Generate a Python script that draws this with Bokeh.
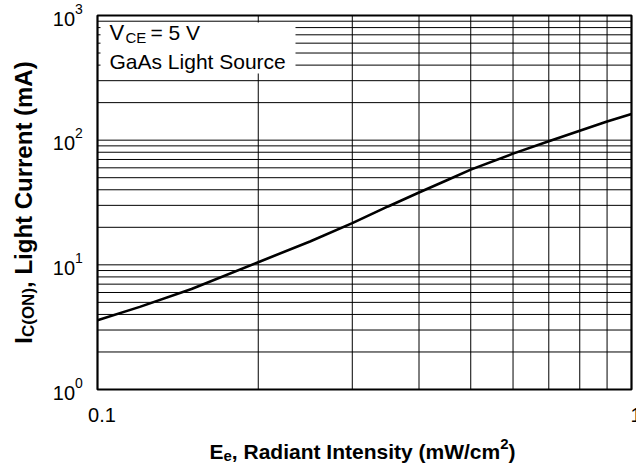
import math
from bokeh.plotting import figure
from bokeh.models import Label, BoxAnnotation, Range1d
from bokeh.embed import file_html
from bokeh.resources import INLINE

# ---------------- data ----------------
intensity = [0.1, 0.12, 0.15, 0.2, 0.25, 0.3, 0.35, 0.4, 0.45, 0.5, 0.6, 0.7, 0.8, 0.9, 1.0]
current = [3.6, 4.6, 6.4, 10.5, 15.4, 21.6, 29.4, 38, 47.5, 58, 78, 98, 119, 141, 162]

x_grid = [0.1, 0.2, 0.3, 0.4, 0.5, 0.6, 0.7, 0.8, 0.9, 1.0]
y_grid = [1, 2, 3, 4, 5, 6, 7, 8, 9,
          10, 20, 30, 40, 50, 60, 70, 80, 90,
          100, 200, 300, 400, 500, 600, 700, 800, 900, 1000]
y_tick_exps = [0, 1, 2, 3]
x_tick_vals = [0.1, 1.0]
x_tick_labels = ["0.1", "1"]

XMIN, XMAX = 0.1, 1.0
YMIN, YMAX = 1.0, 1000.0

# ---------------- layout (pixels) ----------------
W, H = 636, 467
FL, FT = 97, 15          # chart box left / top
FW, FH = 534, 374        # chart box width / height
FONT = "Liberation Sans"
SHIFT = 7                # baseline correction of the text renderer

XDEC = math.log10(XMAX / XMIN)
YDEC = math.log10(YMAX / YMIN)


def xdata(px):  # px measured from chart box left
    return XMIN * 10 ** (px / FW * XDEC)


def ydata(py):  # py measured from chart box top
    return YMAX * 10 ** (-py / FH * YDEC)


BOLD = {' ': 278, ',': 278, '(': 333, ')': 333, '/': 278, 'A': 722, 'C': 722,
        'E': 667, 'I': 278, 'L': 611, 'N': 722, 'O': 778, 'R': 722, 'W': 944,
        'a': 556, 'c': 556, 'd': 611, 'e': 556, 'g': 611, 'h': 611, 'i': 278,
        'm': 889, 'n': 611, 'r': 389, 's': 556, 't': 333, 'u': 611, 'y': 556}


def tw(s, size):
    return sum(BOLD.get(ch, 556) for ch in s) / 1000.0 * size


p = figure(width=W, height=H, x_axis_type="log", y_axis_type="log",
           x_range=Range1d(xdata(-FL), xdata(W - FL)),
           y_range=Range1d(ydata(H - FT), ydata(-FT)),
           output_backend="svg", toolbar_location=None,
           min_border=0)
p.xaxis.visible = False
p.yaxis.visible = False
p.xgrid.visible = False
p.ygrid.visible = False
p.outline_line_color = None
p.background_fill_color = "white"
p.border_fill_color = "white"

# grid lines
p.segment(x0=x_grid, y0=[YMIN] * len(x_grid), x1=x_grid, y1=[YMAX] * len(x_grid),
          line_color="black", line_width=1, level="underlay")
p.segment(x0=[XMIN] * len(y_grid), y0=y_grid, x1=[XMAX] * len(y_grid), y1=y_grid,
          line_color="black", line_width=1, level="underlay")

# curve
p.line(intensity, current, line_color="black", line_width=2.6)

# white box behind the annotation
p.add_layout(BoxAnnotation(left=xdata(3), right=xdata(198), top=ydata(7),
                           bottom=ydata(58), fill_color="white", fill_alpha=1,
                           line_color=None, level="annotation"))

# chart border
p.quad(left=[XMIN], right=[XMAX], bottom=[YMIN], top=[YMAX],
       fill_color=None, line_color="black", line_width=2.2)


def lab(x, y, text, size, xo, yo, bold=False, align="left", angle=0.0):
    if angle:
        xo -= SHIFT
    else:
        yo += SHIFT
    p.add_layout(Label(x=x, y=y, text=text, x_offset=xo, y_offset=yo,
                       text_font=FONT, text_font_size=f"{size}px",
                       text_font_style="bold" if bold else "normal",
                       text_align=align, text_baseline="alphabetic",
                       text_color="black", angle=angle))


# annotation text
lab(XMIN, YMAX, "V", 22, 12, -24)
lab(XMIN, YMAX, "CE", 15, 28, -29)
lab(XMIN, YMAX, "= 5 V", 21, 53, -24)
lab(XMIN, YMAX, "GaAs Light Source", 21, 12, -53)

# y tick labels
for e in y_tick_exps:
    lab(XMIN, 10 ** e, "10", 20, -22.5, -10, align="right")
    lab(XMIN, 10 ** e, str(e), 14, -22.5, 0)

# x tick labels
for v, t in zip(x_tick_vals, x_tick_labels):
    lab(v, YMIN, t, 20, 4.5, -32, align="center")

# x axis label (bold, with subscript / superscript)
FS, SS = 21, 15
xmid = math.sqrt(XMIN * XMAX)
ymid = math.sqrt(YMIN * YMAX)
xparts = [("E", FS, 0), ("e", SS, -4), (", Radiant Intensity (mW/cm", FS, 0),
          ("2", SS, 8), (")", FS, 0)]
total = sum(tw(s, sz) for s, sz, _ in xparts)
cx = -total / 2 - 2
for s, sz, dy in xparts:
    lab(xmid, YMIN, s, sz, cx, -69 + dy, bold=True)
    cx += tw(s, sz)

# y axis label (rotated)
YF, YS = 24, 17
yparts = [("I", YF, 0), ("C(ON)", YS, 5), (", Light Current (mA)", YF, 0)]
total = sum(tw(s, sz) for s, sz, _ in yparts)
cy = -total / 2
for s, sz, dx in yparts:
    lab(XMIN, ymid, s, sz, -67 + dx, cy, bold=True, angle=math.pi / 2)
    cy += tw(s, sz)

open("out.html", "w").write(file_html(p, INLINE))
